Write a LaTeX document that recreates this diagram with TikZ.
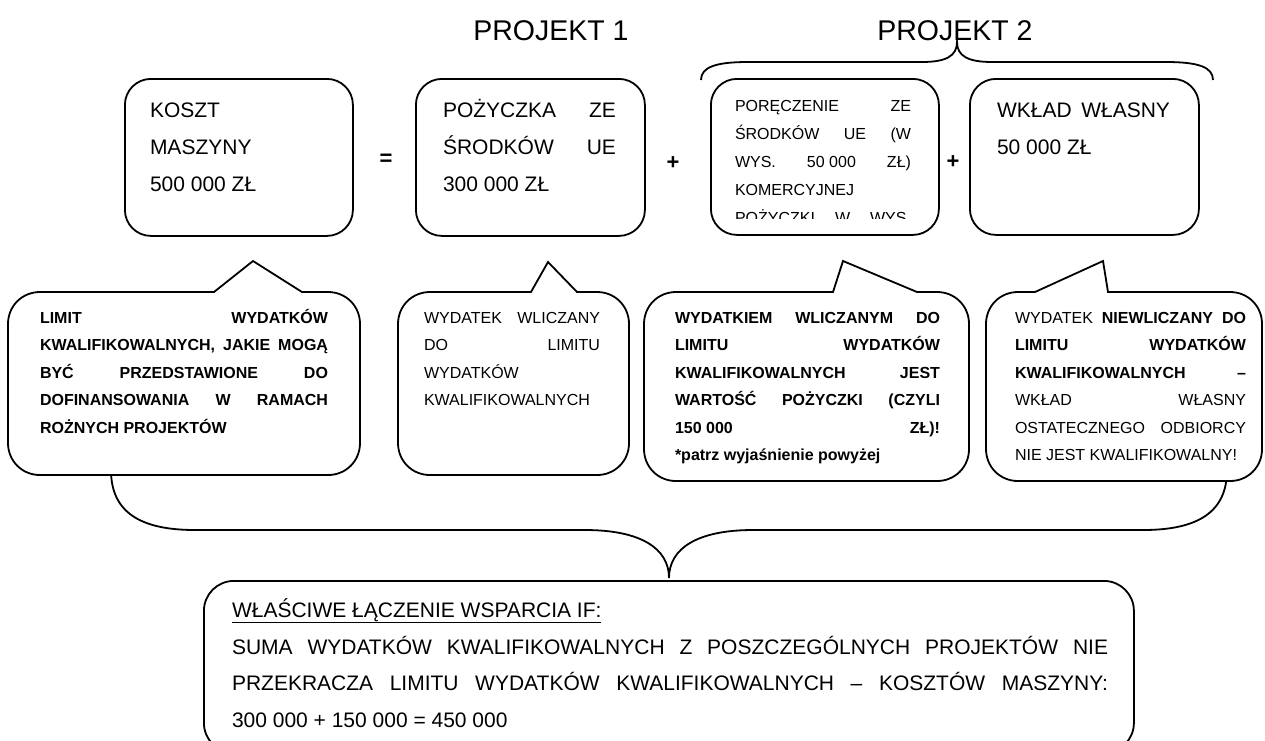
\documentclass[tikz,border=0pt]{standalone}
\usepackage{fontspec}
\setmainfont{Liberation Sans}
\newcommand\jus[2]{\makebox[#1pt][s]{#2}}
\newcommand\tl[5]{\node[txt,#2] (#1) at (#3,#4) {#5};}
\newcommand\callout[8]{%
 \draw[cbox] (#1,#2+32) .. controls (#1,#2+14) and (#1+14,#2) .. (#1+32,#2) -- (#5,#2) -- (#6,#7) -- (#8,#2) -- (#3-32,#2) .. controls (#3-14,#2) and (#3,#2+14) .. (#3,#2+32) -- (#3,#4-32) .. controls (#3,#4-14) and (#3-14,#4) .. (#3-32,#4) -- (#1+32,#4) .. controls (#1+14,#4) and (#1,#4-14) .. (#1,#4-32) -- cycle;}
\tikzset{
 box/.style={draw, line width=1.8pt, rounded corners=26pt, inner sep=0pt},
 cbox/.style={draw, line width=1.8pt, fill=white},
 brace/.style={draw, line width=1.8pt},
 txt/.style={anchor=base west, inner sep=0pt, outer sep=0pt},
 big/.style={font=\fontsize{21}{25}\selectfont},
 small/.style={font=\fontsize{16}{19}\selectfont},
 smallb/.style={font=\fontsize{16}{19}\selectfont\bfseries},
 head/.style={anchor=base, inner sep=0pt, font=\fontsize{28.5}{34}\selectfont},
 op/.style={inner sep=0pt, font=\fontsize{22}{26}\selectfont\bfseries},
}
\begin{document}
\begin{tikzpicture}[x=1pt,y=-1pt]
\useasboundingbox (0,0) rectangle (1265,740);
% headings
\node[head] (p1) at (551,40) {PROJEKT 1};
\node[head] (p2) at (955,40) {PROJEKT 2};
% top brace
\draw[brace] (701,80) .. controls (701,67) and (716,62) .. (748,62) -- (922,62) .. controls (946,62) and (957,56) .. (957,42) .. controls (957,56) and (968,62) .. (992,62) -- (1166,62) .. controls (1198,62) and (1213,67) .. (1213,80);
% top boxes
\node[box, minimum width=228pt, minimum height=157pt, anchor=north west] (b1) at (124,78) {};
\node[box, minimum width=229pt, minimum height=157pt, anchor=north west] (b2) at (415,78) {};
\node[box, minimum width=228pt, minimum height=156pt, anchor=north west] (b3) at (710,78) {};
\node[box, minimum width=229pt, minimum height=156pt, anchor=north west] (b4) at (969,78) {};
\node[op] (eq) at (386,160) {=};
\node[op] (pl1) at (673,163) {+};
\node[op] (pl2) at (953,162) {+};
% box texts
\tl{b1a}{big}{150}{117}{KOSZT}
\tl{b1b}{big}{150}{154}{MASZYNY}
\tl{b1c}{big}{150}{191}{500 000 ZŁ}
\tl{b2a}{big}{443}{117}{\jus{173}{POŻYCZKA ZE}}
\tl{b2b}{big}{443}{154}{\jus{173}{ŚRODKÓW UE}}
\tl{b2c}{big}{443}{191}{300 000 ZŁ}
\begin{scope}
\clip (700,80) rectangle (950,218);
\tl{b3a}{small}{735}{111}{\jus{176}{PORĘCZENIE ZE}}
\tl{b3b}{small}{735}{139}{\jus{176}{ŚRODKÓW UE (W}}
\tl{b3c}{small}{735}{167}{\jus{176}{WYS. \mbox{50 000} ZŁ)}}
\tl{b3d}{small}{735}{195}{KOMERCYJNEJ}
\tl{b3e}{small}{735}{223}{\jus{176}{POŻYCZKI W WYS.}}
\end{scope}
\tl{b4a}{big}{997}{117}{\jus{173}{WKŁAD WŁASNY}}
\tl{b4b}{big}{997}{154}{50 000 ZŁ}
% big brace
\draw[brace] (111,470) .. controls (111,512) and (140,530) .. (195,530) -- (585,530) .. controls (640,530) and (669,548) .. (669,578) .. controls (669,548) and (698,530) .. (753,530) -- (1143,530) .. controls (1198,530) and (1227,512) .. (1227,470);
% callouts
\callout{8}{292}{360}{475}{214}{253}{261}{302}
\callout{398}{292}{629}{475}{531}{548}{262}{577}
\callout{644}{292}{969}{481}{833}{843}{261}{917}
\callout{986}{292}{1262}{481}{1035}{1103}{261}{1108}
% callout 1
\tl{c1a}{smallb}{40}{323}{\jus{288}{LIMIT WYDATKÓW}}
\tl{c1b}{smallb}{40}{350.5}{\jus{288}{KWALIFIKOWALNYCH, JAKIE MOGĄ}}
\tl{c1c}{smallb}{40}{378}{\jus{288}{BYĆ PRZEDSTAWIONE DO}}
\tl{c1d}{smallb}{40}{405.5}{\jus{288}{DOFINANSOWANIA W RAMACH}}
\tl{c1e}{smallb}{40}{433}{ROŻNYCH PROJEKTÓW}
% callout 2
\tl{c2a}{small}{424}{323}{\jus{176}{WYDATEK WLICZANY}}
\tl{c2b}{small}{424}{350.5}{\jus{176}{DO LIMITU}}
\tl{c2c}{small}{424}{378}{WYDATKÓW}
\tl{c2d}{small}{424}{405.5}{KWALIFIKOWALNYCH}
% callout 3
\tl{c3a}{smallb}{675}{323}{\jus{265}{WYDATKIEM WLICZANYM DO}}
\tl{c3b}{smallb}{675}{350.5}{\jus{265}{LIMITU WYDATKÓW}}
\tl{c3c}{smallb}{675}{378}{\jus{265}{KWALIFIKOWALNYCH JEST}}
\tl{c3d}{smallb}{675}{405.5}{\jus{265}{WARTOŚĆ POŻYCZKI (CZYLI}}
\tl{c3e}{smallb}{675}{433}{\jus{265}{\mbox{150 000} ZŁ)!}}
\tl{c3f}{smallb}{675}{460.5}{*patrz wyjaśnienie powyżej}
% callout 4
\tl{c4a}{small}{1015}{323}{\jus{231}{WYDATEK \textbf{NIEWLICZANY DO}}}
\tl{c4b}{smallb}{1015}{350.5}{\jus{231}{LIMITU WYDATKÓW}}
\tl{c4c}{smallb}{1015}{378}{\jus{231}{KWALIFIKOWALNYCH –}}
\tl{c4d}{small}{1015}{405.5}{\jus{231}{WKŁAD WŁASNY}}
\tl{c4e}{small}{1015}{433}{\jus{231}{OSTATECZNEGO ODBIORCY}}
\tl{c4f}{small}{1015}{460.5}{NIE JEST KWALIFIKOWALNY!}
% bottom box
\node[box, rounded corners=30pt, minimum width=930pt, minimum height=172pt, anchor=north west] (bot) at (203,580) {};
\tl{d1}{big}{232}{617}{\underline{WŁAŚCIWE ŁĄCZENIE WSPARCIA IF:}}
\tl{d2}{big}{232}{654}{\jus{876}{SUMA WYDATKÓW KWALIFIKOWALNYCH Z POSZCZEGÓLNYCH PROJEKTÓW NIE}}
\tl{d3}{big}{232}{690.5}{\jus{876}{PRZEKRACZA LIMITU WYDATKÓW KWALIFIKOWALNYCH – KOSZTÓW MASZYNY:}}
\tl{d4}{big}{232}{727}{300 000 + 150 000 = 450 000}
\end{tikzpicture}
\end{document}
